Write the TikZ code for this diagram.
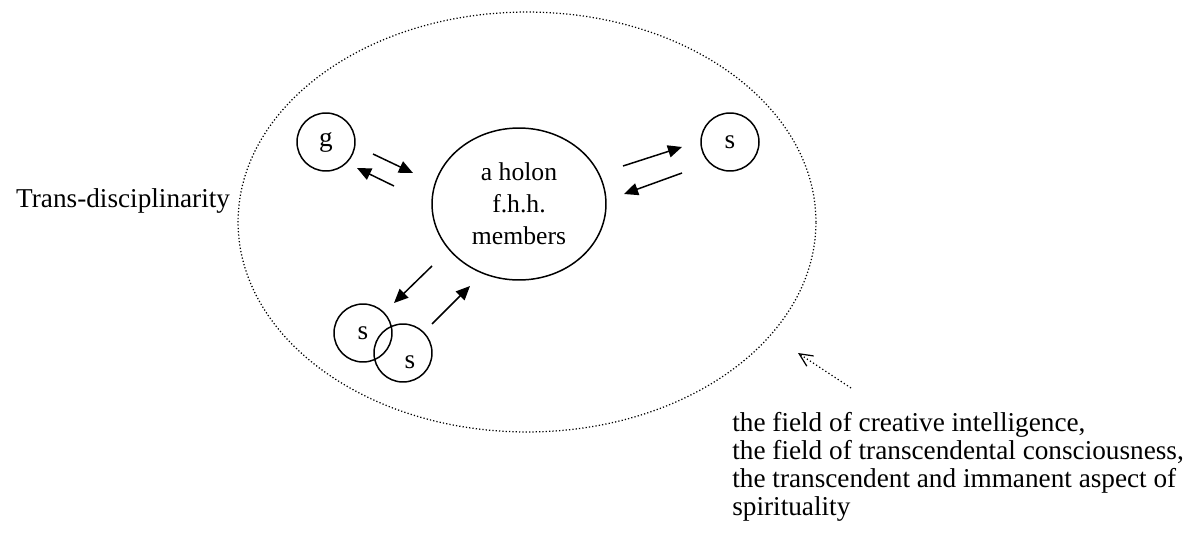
\documentclass[tikz,border=0pt]{standalone}
\usepackage{fontspec}
\setmainfont{Liberation Serif}
\usetikzlibrary{shapes.geometric, arrows.meta, positioning}

\tikzset{
  blob/.style={circle, draw, line width=0.85pt, minimum size=1.16cm, inner sep=0pt},
  holon/.style={ellipse, draw, line width=0.85pt, minimum width=3.48cm, minimum height=3.04cm,
    inner sep=0pt, align=center, font=\fontsize{14.6}{18.1}\selectfont},
  field/.style={ellipse, draw, line width=0.7pt, dash pattern=on 0.7pt off 1.2pt,
    minimum width=11.56cm, minimum height=8.4cm, inner sep=0pt},
  link/.style={line width=0.85pt, -{Triangle[length=8pt,width=7pt]}},
  pointer/.style={line width=0.7pt, dash pattern=on 0.7pt off 1.4pt, -{Straight Barb[length=7.5pt,width=7pt]}},
  every node/.style={font=\fontsize{15.5}{15.9}\selectfont}
}

\begin{document}
\begin{tikzpicture}[x=0.02cm, y=-0.02cm]
    \useasboundingbox (0,0) rectangle (1190,534);

    \node[field] (field) at (527,222) {}; % the big dotted field
    \node[holon] (holon) at (519,204) {a holon\\f.h.h.\\members}; % centre
    \node[blob] (g) at (326,142) {g}; % g
    \node[blob] (s1) at (730,142) {s}; % s right
    \node[blob] (s2) at (363,333) {s}; % s bottom left
    \node[blob] (s3) at (403,353) {}; % s bottom right
    \node (s3lab) at (410,362) {s};

    \node[anchor=base west] (trans) at (10,207) {Trans-disciplinarity};
    \node[anchor=north west, inner sep=0pt, align=left] (note) at (732,412)
        {the field of creative intelligence,\\
         the field of transcendental consciousness,\\
         the transcendent and immanent aspect of\\
         spirituality};

    \coordinate (ptr) at (851,388);
    \coordinate (ptrtip) at (798,353);

    % to and fro
    \draw[link] (g) ++(47,12) -- ++(40,19);
    \draw[link] (holon) ++(-125,-18) -- ++(-37,-18);
    \draw[link] (holon) ++(104,-38) -- ++(59,-19);
    \draw[link] (s1) ++(-48,31) -- ++(-58,21);
    \draw[link] (holon) ++(-87,62) -- ++(-38,37);
    \draw[link] (s3) ++(29,-29) -- ++(38,-38);

    \draw[pointer] (ptr) -- (ptrtip);
\end{tikzpicture}
\end{document}
